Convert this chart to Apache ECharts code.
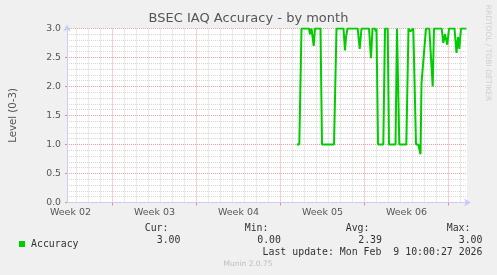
<!DOCTYPE html>
<html>
<head>
<meta charset="utf-8">
<script src="https://cdn.jsdelivr.net/npm/echarts@6/dist/echarts.min.js"></script>
<style>
html,body{margin:0;padding:0;background:#f0f0f0;}
#chart{width:497px;height:275px;}
</style>
</head>
<body>
<div id="chart"></div>
<script>
// ---- data (x in hours from left edge of the 33-day window) ----
const hours = [459.4, 464.6, 469, 484, 486, 489, 491, 493.4, 496, 507, 510, 534, 539, 553, 556, 558, 561,
  581.4, 585.4, 589, 604, 608, 611, 616, 617.4, 619, 622, 632.6, 636, 641.4, 644, 657, 660, 661.4, 664.6,
  678.6, 683, 685, 687, 690, 692.6, 698, 702.6, 707, 709, 712, 718, 724.6, 731.4, 734, 749.4, 752.6, 756,
  760.6, 764, 775, 779, 782, 784.6, 788, 799];
const accuracy = [1.0, 1.0, 3.0, 3.0, 2.9, 3.0, 3.0, 2.7, 3.0, 3.0, 1.0, 1.0, 3.0, 3.0, 2.62, 2.85, 3.0,
  3.0, 2.65, 3.0, 3.0, 2.49, 3.0, 3.0, 2.95, 3.0, 1.0, 1.0, 3.0, 3.0, 1.0, 1.0, 3.0, 3.0, 1.0,
  1.0, 3.0, 3.0, 2.95, 2.95, 3.0, 1.0, 1.0, 0.83, 2.06, 2.06, 3.0, 3.0, 2.0, 3.0, 3.0, 2.75, 2.9,
  2.72, 3.0, 3.0, 2.58, 2.85, 2.65, 3.0, 3.0];
const weekLabels = ['Week 02', 'Week 03', 'Week 04', 'Week 05', 'Week 06'];
const statHeaders = ['Cur:', 'Min:', 'Avg:', 'Max:'];
const statValues = ['3.00', '0.00', '2.39', '3.00'];
const seriesName = 'Accuracy';
const titleText = 'BSEC IAQ Accuracy - by month';
const yName = 'Level (0-3)';
const lastUpdate = 'Last update: Mon Feb  9 10:00:27 2026';
const footer = 'Munin 2.0.75';
const sideText = 'RRDTOOL / TOBI OETIKER';

// ---- axis helpers ----
const SPAN = 800;          // hours shown
const WEEK_LINE0 = 91;     // first week boundary (hours)
const LABEL0 = 7;          // first week label (hours)
const hourSlots = [];
for (let i = 0; i <= SPAN; i++) hourSlots.push(String(i));
const isWeekLine = i => i >= WEEK_LINE0 && (i - WEEK_LINE0) % 168 === 0;
const isDayLine = i => i >= 19 && (i - 19) % 24 === 0 && !isWeekLine(i);
const isLabel = i => i >= LABEL0 && (i - LABEL0) % 168 === 0 && (i - LABEL0) / 168 < weekLabels.length;

const mono = 'DejaVu Sans Mono';
const sans = 'DejaVu Sans';
const majorColor = '#eda3a3';
const minorColor = '#d6d6d6';
const axisColor = '#c9cdf4';

const chart = echarts.init(document.getElementById('chart'), null, {renderer: 'canvas'});
const pts = hours.map((h, i) => [h, accuracy[i]]);

const headerRight = [168.5, 268.5, 369.5, 470.5];
const valueRight = [180.5, 281, 382, 482.5];
const graphics = [
  {type: 'text', x: 248.5, y: 19, style: {text: titleText, font: '13px "' + sans + '"', fill: '#555', textAlign: 'center', textVerticalAlign: 'middle'}},
  {type: 'text', x: 487.5, y: 53, rotation: -Math.PI / 2, style: {text: sideText, font: '7.5px "' + sans + '"', fill: '#cfcfcf', textAlign: 'center', textVerticalAlign: 'middle'}},
  {type: 'text', x: 482.5, y: 252, style: {text: lastUpdate, font: '9.9px "' + mono + '"', fill: '#333', textAlign: 'right', textVerticalAlign: 'middle'}},
  {type: 'text', x: 248, y: 264.5, style: {text: footer, font: '7.5px "' + sans + '"', fill: '#bdbdbd', textAlign: 'center', textVerticalAlign: 'middle'}}
];
statHeaders.forEach((t, i) => graphics.push({type: 'text', x: headerRight[i], y: 228.5,
  style: {text: t, font: '9.9px "' + mono + '"', fill: '#333', textAlign: 'right', textVerticalAlign: 'middle'}}));
statValues.forEach((t, i) => graphics.push({type: 'text', x: valueRight[i], y: 240,
  style: {text: t, font: '9.9px "' + mono + '"', fill: '#333', textAlign: 'right', textVerticalAlign: 'middle'}}));

chart.setOption({
  backgroundColor: '#f0f0f0',
  animation: false,
  grid: {left: 67, top: 28.5, width: 400, height: 174, show: true, backgroundColor: '#ffffff', borderWidth: 0},
  legend: {
    data: [seriesName], left: 14, top: 234, itemWidth: 6, itemHeight: 6, icon: 'rect',
    textStyle: {fontFamily: mono, fontSize: 9.9, color: '#333', padding: [0, 0, 0, 1]}
  },
  xAxis: [
    {
      type: 'value', min: 0, max: SPAN, position: 'bottom', z: 3,
      axisLine: {show: true, lineStyle: {color: axisColor, width: 1}, symbol: ['none', 'arrow'], symbolSize: [6, 7], symbolOffset: [0, 4]},
      axisTick: {show: false}, axisLabel: {show: false}, splitLine: {show: false}
    },
    {
      type: 'category', data: hourSlots, boundaryGap: false, position: 'bottom',
      axisLine: {show: false},
      axisTick: {show: true, interval: (i) => isWeekLine(i), length: 3, lineStyle: {color: '#e88a8a'}},
      axisLabel: {show: true, interval: (i) => isLabel(i), margin: 5, fontFamily: sans, fontSize: 9.5, color: '#555',
        formatter: (v, i) => weekLabels[(i - LABEL0) / 168] || ''},
      splitLine: {show: true, interval: (i) => isWeekLine(i), lineStyle: {color: majorColor, type: [1, 1], width: 1}}
    },
    {
      type: 'category', data: hourSlots, boundaryGap: false, position: 'bottom',
      axisLine: {show: false}, axisTick: {show: false}, axisLabel: {show: false},
      splitLine: {show: true, interval: (i) => isDayLine(i), lineStyle: {color: minorColor, type: [1, 1], width: 1}}
    }
  ],
  yAxis: {
    type: 'value', min: 0, max: 3, interval: 0.5, z: 3,
    name: yName, nameLocation: 'middle', nameGap: 49, nameRotate: 90,
    nameTextStyle: {fontFamily: sans, fontSize: 10.2, color: '#555'},
    axisLine: {show: true, lineStyle: {color: axisColor, width: 1}, symbol: ['none', 'arrow'], symbolSize: [6, 7], symbolOffset: [0, 4]},
    axisTick: {show: true, length: 2, lineStyle: {color: '#e88a8a'}},
    axisLabel: {fontFamily: sans, fontSize: 9.3, color: '#555', margin: 6, formatter: v => v.toFixed(1)},
    splitLine: {show: true, lineStyle: {color: majorColor, type: [1, 1], width: 1}},
    minorTick: {show: false, splitNumber: 5},
    minorSplitLine: {show: true, lineStyle: {color: minorColor, type: [1, 1], width: 1}}
  },
  series: [{
    name: seriesName, type: 'line', xAxisIndex: 0, data: pts, showSymbol: false, symbol: 'none',
    lineStyle: {color: '#00cc00', width: 2}, itemStyle: {color: '#00cc00'}, z: 5
  }],
  graphic: graphics
});
</script>
</body>
</html>
